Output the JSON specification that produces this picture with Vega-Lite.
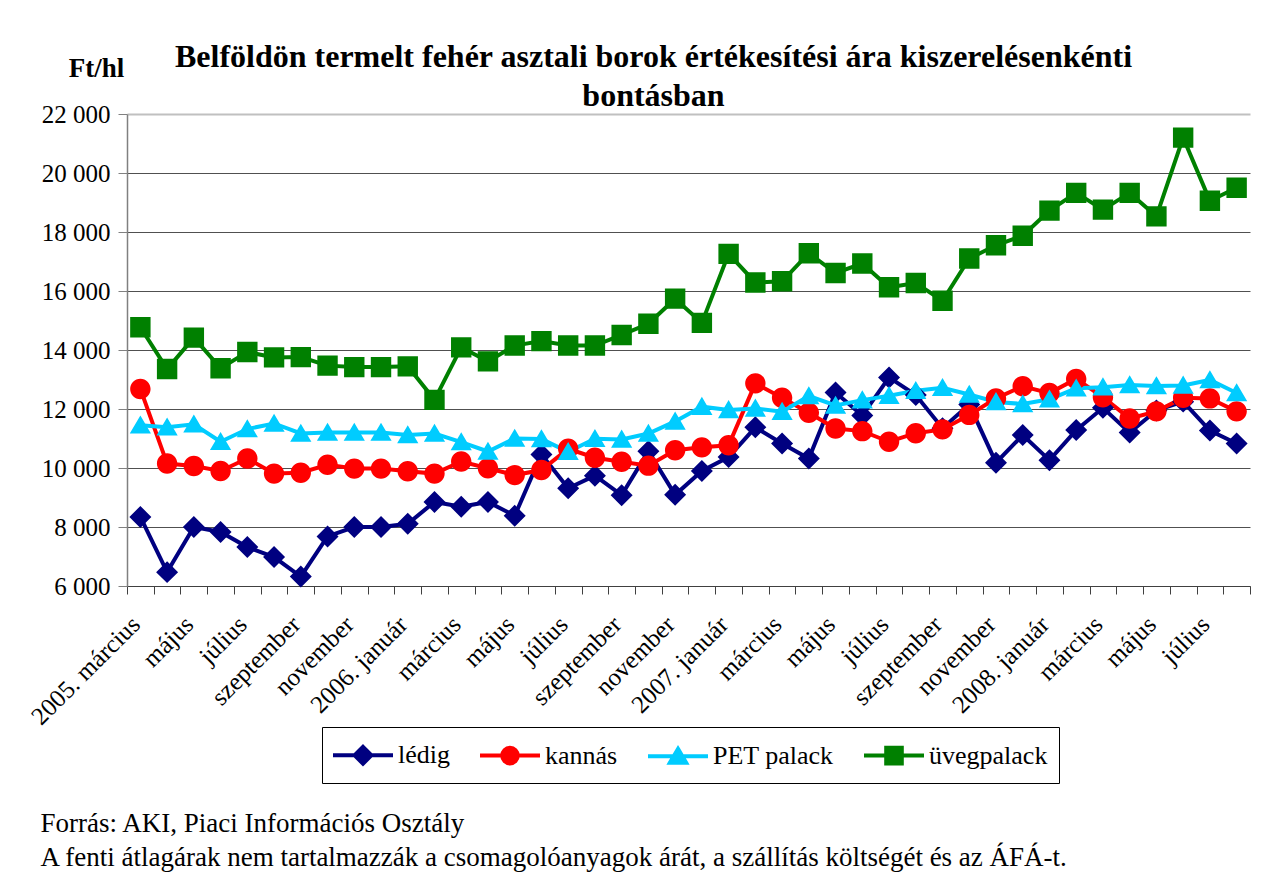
{
  "$schema": "https://vega.github.io/schema/vega-lite/v6.json",
  "width": 1123,
  "height": 472,
  "autosize": "none",
  "padding": {"left": 127, "top": 114, "right": 18, "bottom": 289},
  "background": "white",
  "config": {"view": {"stroke": null}, "font": "Liberation Serif, Times New Roman, serif"},
  "title": {
    "text": ["Belföldön termelt fehér asztali borok értékesítési ára kiszerelésenkénti", "bontásban"],
    "font": "Liberation Serif, Times New Roman, serif",
    "fontSize": 32,
    "fontWeight": "bold",
    "color": "black",
    "anchor": "middle",
    "dx": -35,
    "dy": 69,
    "lineHeight": 39,
    "offset": 10
  },
  "data": {
    "values": [
      {"ho": "2005-03", "lédig": 8340, "kannás": 12680, "PET palack": 11450, "üvegpalack": 14770},
      {"ho": "2005-04", "lédig": 6470, "kannás": 10150, "PET palack": 11380, "üvegpalack": 13355},
      {"ho": "2005-05", "lédig": 8000, "kannás": 10070, "PET palack": 11480, "üvegpalack": 14420},
      {"ho": "2005-06", "lédig": 7830, "kannás": 9900, "PET palack": 10890, "üvegpalack": 13380},
      {"ho": "2005-07", "lédig": 7320, "kannás": 10320, "PET palack": 11320, "üvegpalack": 13930},
      {"ho": "2005-08", "lédig": 6980, "kannás": 9810, "PET palack": 11510, "üvegpalack": 13750},
      {"ho": "2005-09", "lédig": 6320, "kannás": 9840, "PET palack": 11170, "üvegpalack": 13760},
      {"ho": "2005-10", "lédig": 7680, "kannás": 10110, "PET palack": 11200, "üvegpalack": 13470},
      {"ho": "2005-11", "lédig": 8000, "kannás": 9980, "PET palack": 11200, "üvegpalack": 13420},
      {"ho": "2005-12", "lédig": 8000, "kannás": 9980, "PET palack": 11200, "üvegpalack": 13420},
      {"ho": "2006-01", "lédig": 8110, "kannás": 9890, "PET palack": 11120, "üvegpalack": 13445},
      {"ho": "2006-02", "lédig": 8850, "kannás": 9810, "PET palack": 11170, "üvegpalack": 12310},
      {"ho": "2006-03", "lédig": 8690, "kannás": 10220, "PET palack": 10880, "üvegpalack": 14090},
      {"ho": "2006-04", "lédig": 8850, "kannás": 9990, "PET palack": 10560, "üvegpalack": 13615},
      {"ho": "2006-05", "lédig": 8380, "kannás": 9760, "PET palack": 11000, "üvegpalack": 14150},
      {"ho": "2006-06", "lédig": 10460, "kannás": 9930, "PET palack": 10980, "üvegpalack": 14300},
      {"ho": "2006-07", "lédig": 9310, "kannás": 10650, "PET palack": 10550, "üvegpalack": 14150},
      {"ho": "2006-08", "lédig": 9740, "kannás": 10350, "PET palack": 10990, "üvegpalack": 14150},
      {"ho": "2006-09", "lédig": 9080, "kannás": 10210, "PET palack": 10970, "üvegpalack": 14510},
      {"ho": "2006-10", "lédig": 10570, "kannás": 10080, "PET palack": 11170, "üvegpalack": 14890},
      {"ho": "2006-11", "lédig": 9090, "kannás": 10600, "PET palack": 11580, "üvegpalack": 15740},
      {"ho": "2006-12", "lédig": 9900, "kannás": 10700, "PET palack": 12080, "üvegpalack": 14920},
      {"ho": "2007-01", "lédig": 10370, "kannás": 10770, "PET palack": 11970, "üvegpalack": 17260},
      {"ho": "2007-02", "lédig": 11380, "kannás": 12870, "PET palack": 12020, "üvegpalack": 16290},
      {"ho": "2007-03", "lédig": 10830, "kannás": 12385, "PET palack": 11910, "üvegpalack": 16330},
      {"ho": "2007-04", "lédig": 10320, "kannás": 11875, "PET palack": 12440, "üvegpalack": 17280},
      {"ho": "2007-05", "lédig": 12560, "kannás": 11340, "PET palack": 12120, "üvegpalack": 16610},
      {"ho": "2007-06", "lédig": 11780, "kannás": 11250, "PET palack": 12300, "üvegpalack": 16930},
      {"ho": "2007-07", "lédig": 13070, "kannás": 10890, "PET palack": 12450, "üvegpalack": 16125},
      {"ho": "2007-08", "lédig": 12475, "kannás": 11180, "PET palack": 12620, "üvegpalack": 16270},
      {"ho": "2007-09", "lédig": 11350, "kannás": 11310, "PET palack": 12720, "üvegpalack": 15670},
      {"ho": "2007-10", "lédig": 12150, "kannás": 11800, "PET palack": 12490, "üvegpalack": 17100},
      {"ho": "2007-11", "lédig": 10180, "kannás": 12360, "PET palack": 12240, "üvegpalack": 17550},
      {"ho": "2007-12", "lédig": 11115, "kannás": 12770, "PET palack": 12170, "üvegpalack": 17875},
      {"ho": "2008-01", "lédig": 10265, "kannás": 12540, "PET palack": 12330, "üvegpalack": 18725},
      {"ho": "2008-02", "lédig": 11285, "kannás": 13020, "PET palack": 12700, "üvegpalack": 19325},
      {"ho": "2008-03", "lédig": 12040, "kannás": 12400, "PET palack": 12740, "üvegpalack": 18760},
      {"ho": "2008-04", "lédig": 11200, "kannás": 11680, "PET palack": 12815, "üvegpalack": 19325},
      {"ho": "2008-05", "lédig": 11950, "kannás": 11920, "PET palack": 12780, "üvegpalack": 18530},
      {"ho": "2008-06", "lédig": 12250, "kannás": 12380, "PET palack": 12800, "üvegpalack": 21200},
      {"ho": "2008-07", "lédig": 11270, "kannás": 12360, "PET palack": 12985, "üvegpalack": 19060},
      {"ho": "2008-08", "lédig": 10830, "kannás": 11920, "PET palack": 12540, "üvegpalack": 19500}
    ]
  },
  "transform": [
    {"fold": ["lédig", "kannás", "PET palack", "üvegpalack"], "as": ["sorozat", "ertek"]}
  ],
  "encoding": {
    "x": {
      "field": "ho",
      "type": "ordinal",
      "scale": {"type": "band", "paddingInner": 0, "paddingOuter": 0},
      "axis": {
        "title": ["Forrás: AKI, Piaci Információs Osztály", "A fenti átlagárak nem tartalmazzák a csomagolóanyagok árát, a szállítás költségét és az ÁFÁ-t."],
        "titleFont": "Liberation Serif, Times New Roman, serif",
        "titleFontSize": 27,
        "titleFontWeight": "normal",
        "titleColor": "black",
        "titleAlign": "left",
        "titleAnchor": "start",
        "titleBaseline": "alphabetic",
        "titleLineHeight": 34,
        "titleX": -87,
        "titleY": 245,
        "tickBand": "extent",
        "tickSize": 8,
        "tickColor": "#404040",
        "tickWidth": 1,
        "domainColor": "#404040",
        "domainWidth": 1,
        "labelAngle": -45,
        "labelAlign": "right",
        "labelBaseline": "middle",
        "labelPadding": 26,
        "labelOffset": -5,
        "labelFont": "Liberation Serif, Times New Roman, serif",
        "labelFontSize": 25,
        "labelColor": "black",
        "labelOverlap": false,
        "labelBound": false,
        "labelExpr": "!isString(datum.value) || toNumber(substring(datum.value,5,7)) % 2 == 0 ? '' : (datum.value == '2005-03' || substring(datum.value,5,7) == '01' ? substring(datum.value,0,4) + '. ' : '') + ['január','február','március','április','május','június','július','augusztus','szeptember','október','november','december'][toNumber(substring(datum.value,5,7)) - 1]"
      }
    },
    "y": {
      "field": "ertek",
      "type": "quantitative",
      "scale": {"domain": [6000, 22000], "nice": false, "zero": false},
      "axis": {
        "title": "Ft/hl",
        "titleFont": "Liberation Serif, Times New Roman, serif",
        "titleFontSize": 27,
        "titleFontWeight": "bold",
        "titleColor": "black",
        "titleAngle": 0,
        "titleAlign": "center",
        "titleBaseline": "alphabetic",
        "titleX": -31,
        "titleY": -38,
        "values": [6000, 8000, 10000, 12000, 14000, 16000, 18000, 20000, 22000],
        "labelExpr": "replace(format(datum.value, ','), ',', ' ')",
        "labelFont": "Liberation Serif, Times New Roman, serif",
        "labelFontSize": 25,
        "labelColor": "black",
        "labelPadding": 8,
        "tickSize": 9,
        "tickColor": "#808080",
        "domainColor": "#808080",
        "domainWidth": 1.5,
        "grid": true,
        "gridColor": {"condition": {"test": "datum.value == 22000", "value": "#c0c0c0"}, "value": "#505050"},
        "gridWidth": {"condition": {"test": "datum.value == 22000", "value": 2}, "value": 1}
      }
    },
    "color": {
      "field": "sorozat",
      "type": "nominal",
      "scale": {
        "domain": ["lédig", "kannás", "PET palack", "üvegpalack"],
        "range": ["#000080", "#FF0000", "#00CCFF", "#008000"]
      },
      "legend": {
        "orient": "none",
        "legendX": 195,
        "legendY": 613,
        "direction": "horizontal",
        "title": null,
        "strokeColor": "#000000",
        "fillColor": "white",
        "padding": 11,
        "labelFont": "Liberation Serif, Times New Roman, serif",
        "labelFontSize": 26,
        "labelColor": "black",
        "labelOffset": 18,
        "symbolOffset": 13,
        "symbolSize": 900,
        "symbolStrokeWidth": 4,
        "symbolOpacity": 1,
        "columnPadding": 22
      }
    }
  },
  "layer": [
    {"mark": {"type": "line", "strokeWidth": 4}},
    {
      "mark": {"type": "point", "filled": true, "opacity": 1, "size": 1540},
      "encoding": {
        "shape": {
          "field": "sorozat",
          "type": "nominal",
          "scale": {
            "domain": ["lédig", "kannás", "PET palack", "üvegpalack"],
            "range": [
              "M-2,0H2M0,-0.56L0.56,0L0,0.56L-0.56,0Z",
              "M-2,0H2M0.52,0A0.52,0.52,0,1,1,-0.52,0A0.52,0.52,0,1,1,0.52,0Z",
              "M-2,0H2M0,-0.5L0.54,0.42L-0.54,0.42Z",
              "M-2,0H2M-0.52,-0.52H0.52V0.52H-0.52Z"
            ]
          },
          "legend": {
            "orient": "none",
            "legendX": 195,
            "legendY": 613,
            "direction": "horizontal",
            "title": null,
            "strokeColor": "#000000",
            "fillColor": "white",
            "padding": 11,
            "labelFont": "Liberation Serif, Times New Roman, serif",
            "labelFontSize": 26,
            "labelColor": "black",
            "labelOffset": 18,
            "symbolOffset": 13,
            "symbolSize": 900,
            "symbolStrokeWidth": 4,
            "symbolOpacity": 1,
            "columnPadding": 22
          }
        }
      }
    }
  ]
}
